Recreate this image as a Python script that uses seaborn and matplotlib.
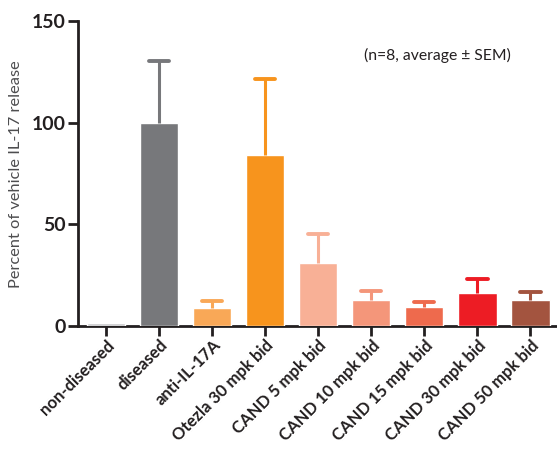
import matplotlib
matplotlib.use("Agg")
import matplotlib.pyplot as plt
import seaborn as sns
import pandas as pd
import numpy as np

categories = ["non-diseased", "diseased", "anti-IL-17A", "Otezla 30 mpk bid",
              "CAND 5 mpk bid", "CAND 10 mpk bid", "CAND 15 mpk bid",
              "CAND 30 mpk bid", "CAND 50 mpk bid"]
means = [1.6, 100.0, 9.0, 84.0, 31.0, 13.0, 9.5, 16.3, 13.0]
sem = [0.0, 30.5, 3.5, 37.5, 14.3, 4.3, 2.5, 7.0, 3.8]
colors = ["#c9c9cb", "#77787b", "#f9a857", "#f7941d", "#f8b096",
          "#f4967a", "#ee6a4d", "#ed1c24", "#a3543f"]

sns.set_style("white")
plt.rcParams['font.family'] = ['Lato', 'DejaVu Sans']

df = pd.DataFrame({"group": categories, "value": means})

fig = plt.figure(figsize=(5.57, 4.5), dpi=100)
ax = fig.add_axes([0.140, 0.2756, 0.86, 0.677])

sns.barplot(data=df, x="group", y="value", hue="group", palette=colors,
            width=0.72, legend=False, ax=ax, saturation=1, errorbar=None)

cap_half = 0.19
for i, (m, s, c) in enumerate(zip(means, sem, colors)):
    if s > 0:
        ax.vlines(i, m, m + s, colors=c, linewidth=2.2, zorder=1)
        ax.hlines(m + s, i - cap_half, i + cap_half, colors=c,
                  linewidth=2.8, zorder=1, capstyle="round")

ax.set_ylim(0, 150)
ax.set_xlim(-0.53, 8.5)
ax.set_yticks([0, 50, 100, 150])
ax.set_yticklabels(["0", "50", "100", "150"], fontsize=14, fontweight="bold",
                   color="#231f20")
ax.set_xticks(range(len(categories)))
ax.set_xticklabels(categories, rotation=45, ha="right", rotation_mode="anchor",
                   fontsize=12, fontweight="bold", color="#231f20")
ax.set_xlabel("")
ax.set_ylabel("Percent of vehicle IL-17 release", fontsize=11.8,
              color="#4d4d4f", labelpad=6)

for sp in ["top", "right"]:
    ax.spines[sp].set_visible(False)
for sp in ["left", "bottom"]:
    ax.spines[sp].set_linewidth(2)
    ax.spines[sp].set_color("#231f20")
    ax.spines[sp].set_zorder(0.5)
ax.tick_params(axis="both", which="major", length=7, width=2,
               color="#231f20", direction="out", bottom=True, left=True)
ax.tick_params(axis="x", pad=1)
ax.tick_params(axis="y", pad=2)

ax.text(0.75, 0.889, "(n=8, average ± SEM)", transform=ax.transAxes,
        ha="center", va="center", fontsize=11.3, color="#231f20")

fig.savefig("out.png", dpi=100)
